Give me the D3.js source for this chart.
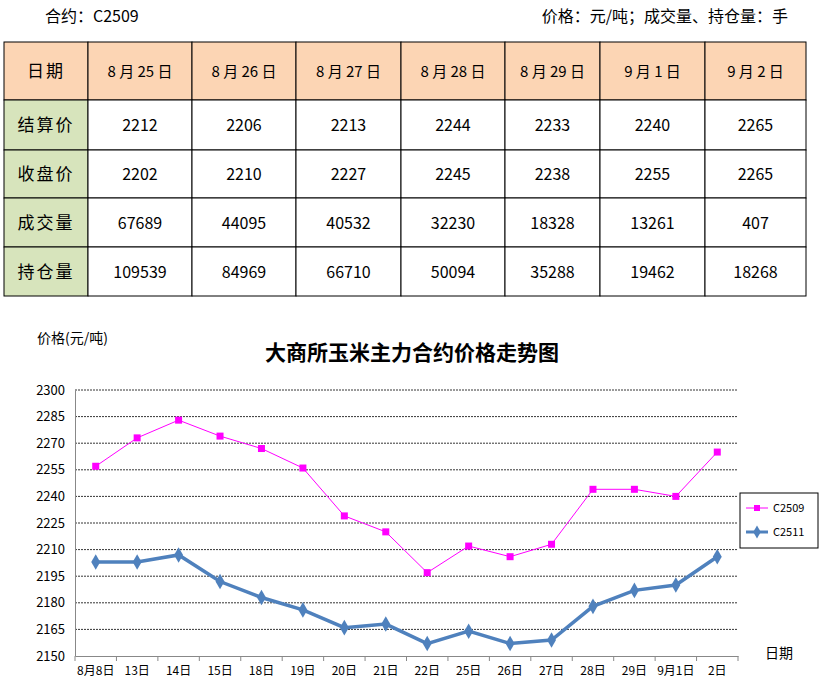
<!DOCTYPE html>
<html><head><meta charset="utf-8">
<script src="https://cdn.jsdelivr.net/npm/d3@7"></script>
<style>body{margin:0;background:#fff}text{font-family:"Noto Sans CJK SC",sans-serif}</style>
</head><body><svg width="828" height="685"></svg>
<script>
var headers = ["日期","8 月 25 日","8 月 26 日","8 月 27 日","8 月 28 日","8 月 29 日","9 月 1 日","9 月 2 日"];
var rowNames = ["结算价","收盘价","成交量","持仓量"];
var settle = [2212,2206,2213,2244,2233,2240,2265];
var closeP = [2202,2210,2227,2245,2238,2255,2265];
var volume = [67689,44095,40532,32230,18328,13261,407];
var openInt = [109539,84969,66710,50094,35288,19462,18268];
var dates = ["8月8日","13日","14日","15日","18日","19日","20日","21日","22日","25日","26日","27日","28日","29日","9月1日","2日"];
var c2509 = [2257,2273,2283,2274,2267,2256,2229,2220,2197,2212,2206,2213,2244,2244,2240,2265];
var c2511 = [2203,2203,2207,2192,2183,2176,2166,2168,2157,2164,2157,2159,2178,2187,2190,2206];
var yTicks = d3.range(2150, 2301, 15);

var svg = d3.select("svg");
svg.append("text").attr("x",45).attr("y",22).attr("font-size",16).text("合约：C2509");
svg.append("text").attr("x",788).attr("y",22).attr("font-size",16).attr("text-anchor","end").text("价格：元/吨；成交量、持仓量：手");

// table
var colX = [4,88,192,296,401,505,600,705,806];
var rowY = [42,100,150,198,247,296];
var rows = [settle,closeP,volume,openInt];
var tbl = svg.append("g");
for (var r = 0; r < 5; r++) {
  for (var c = 0; c < 8; c++) {
    var fill = r == 0 ? "#fcd5b4" : (c == 0 ? "#d7e4bc" : "#fff");
    tbl.append("rect").attr("x",colX[c]).attr("y",rowY[r]).attr("width",colX[c+1]-colX[c]).attr("height",rowY[r+1]-rowY[r])
      .attr("fill",fill).attr("stroke","#000").attr("stroke-width",1);
    var t = r == 0 ? headers[c] : (c == 0 ? rowNames[r-1] : rows[r-1][c-1]);
    tbl.append("text").attr("x",(colX[c]+colX[c+1])/2).attr("y",(rowY[r]+rowY[r+1])/2+6)
      .attr("text-anchor","middle").attr("font-size",c == 0 ? 17 : 15).attr("letter-spacing",c==0?2:0)
      .attr("font-family", r > 0 && c > 0 ? "Liberation Serif" : null).attr("font-size", r > 0 && c > 0 ? 16 : (c == 0 ? 17 : 15))
      .text(t);
  }
}

// chart
var m = {l:75, r:738, t:390, b:656};
var x = d3.scaleBand().domain(dates).range([m.l, m.r]);
var y = d3.scaleLinear().domain([2150,2300]).range([m.b, m.t]);
var g = svg.append("g");
g.selectAll("line.grid").data(yTicks.slice(1)).join("line").attr("class","grid")
  .attr("x1",m.l).attr("x2",m.r).attr("y1",d=>y(d)).attr("y2",d=>y(d))
  .attr("stroke","#000").attr("stroke-dasharray","2,1").attr("stroke-width",0.8);
g.append("g").attr("transform","translate("+m.l+",0)")
  .call(d3.axisLeft(y).tickValues(yTicks).tickFormat(d3.format("d")).tickSize(0).tickPadding(10))
  .call(a=>a.selectAll("text").attr("font-size",13).attr("font-family","Liberation Sans"))
  .call(a=>a.select(".domain").attr("stroke","#888"));
g.append("g").attr("transform","translate(0,"+m.b+")")
  .call(d3.axisBottom(x).tickSizeOuter(0).tickSizeInner(0).tickPadding(10))
  .call(a=>a.selectAll("text").attr("font-size",12))
  .call(a=>a.select(".domain").attr("stroke","#888"));
g.selectAll("line.xt").data(dates.concat([null])).join("line").attr("class","xt")
  .attr("x1",(d,i)=>m.l+i*x.bandwidth()).attr("x2",(d,i)=>m.l+i*x.bandwidth())
  .attr("y1",m.b).attr("y2",m.b+5).attr("stroke","#888");

var cx = d => x(d) + x.bandwidth()/2;
var lineGen = d3.line().x((d,i)=>cx(dates[i])).y(d=>y(d));
g.append("path").attr("d",lineGen(c2509)).attr("fill","none").attr("stroke","#ff00ff").attr("stroke-width",1);
g.selectAll("rect.p").data(c2509).join("rect").attr("class","p")
  .attr("x",(d,i)=>cx(dates[i])-3.5).attr("y",d=>y(d)-3.5).attr("width",7).attr("height",7).attr("fill","#ff00ff");
g.append("path").attr("d",lineGen(c2511)).attr("fill","none").attr("stroke","#4f81bd").attr("stroke-width",3.5);
var dia = d3.symbol().type(d3.symbolDiamond).size(70);
g.selectAll("path.q").data(c2511).join("path").attr("class","q").attr("d",dia)
  .attr("transform",(d,i)=>"translate("+cx(dates[i])+","+y(d)+")").attr("fill","#4f81bd");

svg.append("text").attr("x",412).attr("y",360).attr("text-anchor","middle").attr("font-size",21)
  .attr("font-weight","bold").text("大商所玉米主力合约价格走势图");
svg.append("text").attr("x",37).attr("y",343).attr("font-size",14).text("价格(元/吨)");
svg.append("text").attr("x",765).attr("y",658).attr("font-size",14).text("日期");

var lg = svg.append("g");
lg.append("rect").attr("x",740).attr("y",493).attr("width",78).attr("height",55).attr("fill","#fff").attr("stroke","#000");
lg.append("line").attr("x1",746).attr("x2",768).attr("y1",508).attr("y2",508).attr("stroke","#ff00ff");
lg.append("rect").attr("x",754).attr("y",505).attr("width",6).attr("height",6).attr("fill","#ff00ff");
lg.append("text").attr("x",773).attr("y",512).attr("font-size",11).attr("font-family","Liberation Sans").text("C2509");
lg.append("line").attr("x1",746).attr("x2",768).attr("y1",532).attr("y2",532).attr("stroke","#4f81bd").attr("stroke-width",3);
lg.append("path").attr("d",d3.symbol().type(d3.symbolDiamond).size(50)).attr("transform","translate(757,532)").attr("fill","#4f81bd");
lg.append("text").attr("x",773).attr("y",536).attr("font-size",11).attr("font-family","Liberation Sans").text("C2511");
</script></body></html>
